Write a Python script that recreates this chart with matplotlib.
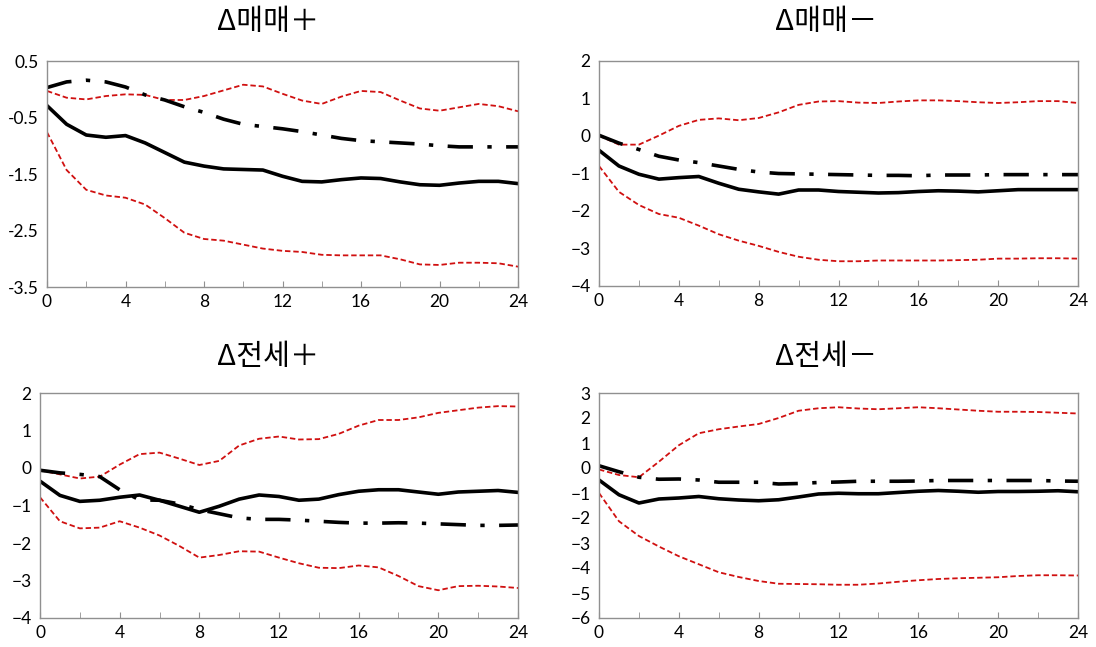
import numpy as np
import matplotlib
matplotlib.use('Agg')
import matplotlib.pyplot as plt

plt.rcParams['font.family'] = ['Lato', 'Noto Sans CJK KR', 'DejaVu Sans']

horizon = list(range(25))

titles = ['Δ매매＋', 'Δ매매－', 'Δ전세＋', 'Δ전세－']

# panel 1: 매매 +
p1_mid = [-0.29, -0.62, -0.81, -0.85, -0.82, -0.95, -1.12, -1.29, -1.36, -1.41, -1.42, -1.43, -1.54,
          -1.63, -1.64, -1.60, -1.57, -1.58, -1.64, -1.69, -1.70, -1.66, -1.63, -1.63, -1.67]
p1_alt = [0.03, 0.13, 0.16, 0.13, 0.04, -0.10, -0.19, -0.31, -0.41, -0.53, -0.62, -0.66, -0.70,
          -0.75, -0.81, -0.87, -0.91, -0.93, -0.95, -0.97, -1.00, -1.02, -1.02, -1.02, -1.02]
p1_up = [-0.03, -0.15, -0.18, -0.12, -0.09, -0.10, -0.19, -0.19, -0.12, -0.02, 0.08, 0.05, -0.08,
         -0.20, -0.26, -0.13, -0.03, -0.05, -0.20, -0.34, -0.38, -0.32, -0.26, -0.30, -0.39]
p1_lo = [-0.76, -1.43, -1.78, -1.88, -1.92, -2.04, -2.28, -2.54, -2.65, -2.68, -2.75, -2.82, -2.86,
         -2.88, -2.93, -2.94, -2.94, -2.94, -3.01, -3.10, -3.11, -3.07, -3.07, -3.08, -3.14]

# panel 2: 매매 -
p2_mid = [-0.38, -0.80, -1.02, -1.15, -1.11, -1.08, -1.26, -1.42, -1.49, -1.55, -1.44, -1.44, -1.48,
          -1.50, -1.52, -1.51, -1.48, -1.46, -1.47, -1.49, -1.46, -1.43, -1.43, -1.43, -1.43]
p2_alt = [0.02, -0.19, -0.36, -0.54, -0.64, -0.71, -0.80, -0.89, -0.96, -1.00, -1.01, -1.02, -1.03,
          -1.04, -1.05, -1.05, -1.06, -1.04, -1.04, -1.04, -1.03, -1.03, -1.03, -1.03, -1.03]
p2_up = [0.01, -0.23, -0.23, 0.01, 0.27, 0.43, 0.47, 0.42, 0.48, 0.63, 0.83, 0.92, 0.93,
         0.89, 0.88, 0.92, 0.95, 0.95, 0.93, 0.90, 0.88, 0.90, 0.93, 0.93, 0.88]
p2_lo = [-0.80, -1.49, -1.84, -2.08, -2.18, -2.39, -2.62, -2.79, -2.93, -3.09, -3.22, -3.30, -3.34,
         -3.34, -3.32, -3.32, -3.32, -3.32, -3.31, -3.30, -3.27, -3.27, -3.26, -3.26, -3.27]

# panel 3: 전세 +
p3_mid = [-0.35, -0.73, -0.89, -0.86, -0.78, -0.72, -0.86, -1.02, -1.18, -1.02, -0.83, -0.72, -0.76,
          -0.86, -0.83, -0.71, -0.62, -0.58, -0.58, -0.64, -0.70, -0.64, -0.62, -0.60, -0.65]
p3_alt = [-0.06, -0.13, -0.17, -0.23, -0.58, -0.85, -0.86, -0.96, -1.11, -1.22, -1.33, -1.37, -1.37,
          -1.39, -1.42, -1.45, -1.47, -1.47, -1.46, -1.47, -1.49, -1.51, -1.53, -1.53, -1.52]
p3_up = [-0.06, -0.17, -0.28, -0.23, 0.09, 0.37, 0.41, 0.25, 0.08, 0.19, 0.60, 0.78, 0.84,
         0.76, 0.77, 0.91, 1.13, 1.28, 1.28, 1.35, 1.47, 1.54, 1.61, 1.65, 1.64]
p3_lo = [-0.78, -1.42, -1.61, -1.59, -1.42, -1.59, -1.80, -2.08, -2.39, -2.32, -2.22, -2.23, -2.39,
         -2.54, -2.66, -2.67, -2.60, -2.65, -2.88, -3.15, -3.26, -3.15, -3.14, -3.16, -3.20]

# panel 4: 전세 -
p4_mid = [-0.48, -1.07, -1.40, -1.24, -1.20, -1.14, -1.23, -1.28, -1.31, -1.27, -1.16, -1.04, -1.01,
          -1.03, -1.03, -0.98, -0.93, -0.90, -0.93, -0.97, -0.94, -0.94, -0.93, -0.91, -0.95]
p4_alt = [0.09, -0.15, -0.37, -0.45, -0.44, -0.48, -0.57, -0.57, -0.57, -0.64, -0.62, -0.58, -0.56,
          -0.53, -0.53, -0.53, -0.52, -0.50, -0.50, -0.50, -0.50, -0.50, -0.50, -0.52, -0.53]
p4_up = [-0.06, -0.28, -0.37, 0.25, 0.91, 1.39, 1.55, 1.66, 1.76, 2.00, 2.29, 2.39, 2.43,
         2.38, 2.35, 2.39, 2.43, 2.39, 2.34, 2.29, 2.25, 2.25, 2.24, 2.21, 2.18]
p4_lo = [-1.00, -2.13, -2.72, -3.14, -3.53, -3.85, -4.17, -4.36, -4.52, -4.63, -4.64, -4.65, -4.67,
         -4.67, -4.62, -4.55, -4.49, -4.44, -4.41, -4.39, -4.37, -4.32, -4.29, -4.29, -4.30]

panels = [
    (p1_mid, p1_alt, p1_up, p1_lo, (-3.5, 0.5), [0.5, -0.5, -1.5, -2.5, -3.5], ['0.5', '-0.5', '-1.5', '-2.5', '-3.5']),
    (p2_mid, p2_alt, p2_up, p2_lo, (-4, 2), list(range(-4, 3)), None),
    (p3_mid, p3_alt, p3_up, p3_lo, (-4, 2), list(range(-4, 3)), None),
    (p4_mid, p4_alt, p4_up, p4_lo, (-6, 3), list(range(-6, 4)), None),
]

# axes boxes in figure pixels (left, top, right, bottom)
boxes = [(47, 61, 518, 287), (599, 61, 1078, 286), (40, 393, 518, 618), (599, 393, 1078, 618)]
title_pos = [(268, 22), (826, 22), (268, 357), (826, 357)]

W, H = 1096, 647
fig = plt.figure(figsize=(W / 100, H / 100), dpi=100)

red = '#d01010'
for i, (mid, alt, up, lo, ylim, yt, ytl) in enumerate(panels):
    l, t, r, b = boxes[i]
    ax = fig.add_axes([l / W, 1 - b / H, (r - l) / W, (b - t) / H])
    ax.plot(horizon, up, color=red, lw=1.3, ls=(0, (3, 1.6)))
    ax.plot(horizon, lo, color=red, lw=1.3, ls=(0, (3, 1.6)))
    ax.plot(horizon, alt, color='black', lw=2.6, ls=(0, (7, 4, 1.2, 4)))
    ax.plot(horizon, mid, color='black', lw=2.6)
    ax.set_xlim(0, 24)
    ax.set_ylim(*ylim)
    ax.set_xticks(range(0, 25, 4))
    ax.set_xticks(range(0, 25, 2), minor=True)
    ax.set_yticks(yt)
    if ytl:
        ax.set_yticklabels(ytl)
    ax.tick_params(axis='x', which='both', direction='in', length=4, color='#909090', labelsize=12.5, pad=5)
    ax.tick_params(axis='y', length=0, labelsize=12.5, pad=6)
    for s in ax.spines.values():
        s.set_color('#909090')
        s.set_linewidth(1.0)
    tx, ty = title_pos[i]
    fig.text(tx / W, 1 - ty / H, titles[i], ha='center', va='center', fontsize=21,
             family=['Noto Sans CJK KR', 'DejaVu Sans'])

fig.savefig('out.png', dpi=100)
